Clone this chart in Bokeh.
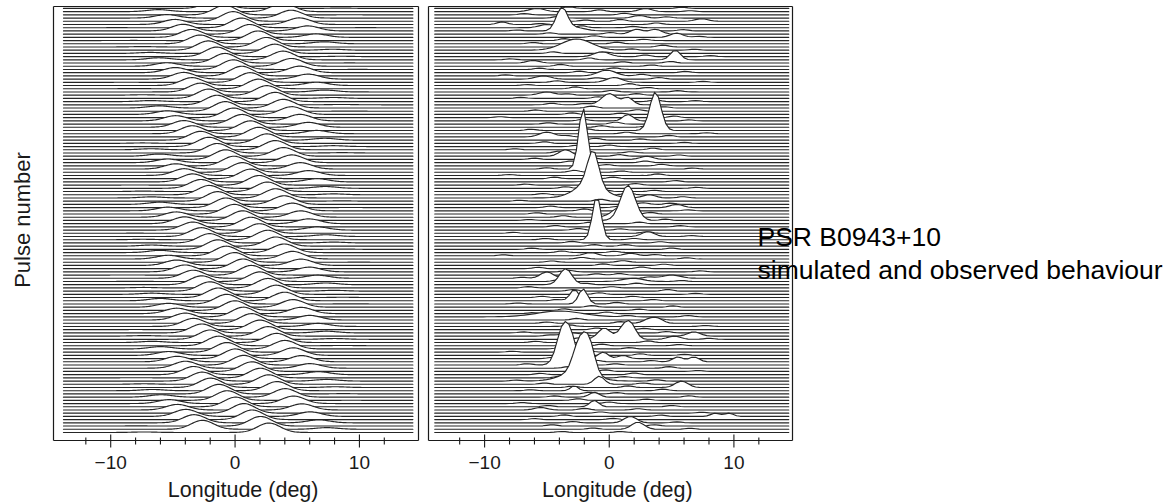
import numpy as np
from bokeh.plotting import figure
from bokeh.layouts import row
from bokeh.models import ColumnDataSource, Range1d
from bokeh.core.properties import value
from bokeh.embed import file_html
from bokeh.resources import INLINE

# ---------------- data ----------------
N_ROWS = 133  # pulses shown in each panel, listed from the top row down

# simulated panel: longitude (deg) of the sub-pulse nearest 0 in each pulse
sim_phase = [
    -1.50, 3.84, -0.83, 4.51, -0.16, -4.83, 0.51, -4.16, 1.18, -3.49,
    1.85, -2.82, 2.52, -2.15, 3.19, -1.48, 3.86, -0.81, 4.53, -0.14,
    -4.80, 0.54, -4.13, 1.21, -3.46, 1.88, -2.79, 2.55, -2.12, 3.22,
    -1.45, 3.89, -0.78, 4.56, -0.11, -4.78, 0.56, -4.11, 1.23, -3.44,
    1.90, -2.77, 2.57, -2.10, 3.24, -1.43, 3.91, -0.76, 4.58, -0.09,
    -4.75, 0.59, -4.08, 1.26, -3.41, 1.93, -2.74, 2.60, -2.07, 3.27,
    -1.40, 3.94, -0.73, 4.61, -0.06, -4.73, 0.61, -4.06, 1.28, -3.39,
    1.95, -2.72, 2.62, -2.05, 3.29, -1.38, 3.96, -0.71, 4.63, -0.04,
    -4.70, 0.64, -4.03, 1.31, -3.36, 1.98, -2.69, 2.65, -2.02, 3.32,
    -1.35, 3.99, -0.68, 4.66, -0.01, -4.68, 0.66, -4.00, 1.33, -3.34,
    2.00, -2.67, 2.67, -2.00, 3.34, -1.33, 4.01, -0.66, 4.68, 0.02,
    -4.65, 0.69, -3.98, 1.36, -3.31, 2.03, -2.64, 2.70, -1.97, 3.37,
    -1.30, 4.04, -0.63, 4.71, 0.04, -4.63, 0.71, -3.96, 1.38, -3.29,
    2.05, -2.62, 2.72,
]
sim_spacing = 10.0       # deg between sub-pulses in one pulse
sim_peak = 3.0           # sub-pulse height, in row spacings
sim_subpulse_width = 0.9
sim_env_center = 0.5
sim_env_width = 5.0

# observed panel, bright features: pulse (row from top), longitude, height (rows), width (deg)
obs_row = [1, 1, 3, 4, 5, 6, 7, 7, 8, 8, 9, 13, 15, 16, 17,
           21, 22, 23, 27, 30, 30, 35, 38, 40, 46, 47, 50, 59, 59, 59,
           62, 65, 66, 71, 72,
           77, 77, 84, 84, 85, 86, 91, 92, 96, 98, 98,
           102, 102, 103, 103, 103, 103, 109, 109, 110, 110,
           111, 111, 116, 116, 116, 117, 118, 119, 121, 124, 125,
           127, 127, 129, 131]
obs_pos = [-5.8, 2.9, 2.4, 7.4, -8.6, -5.0, -3.8, -2.6, 2.2, 3.7, 5.4, -2.6, -0.6, 5.3, -6.1,
           -0.2, -5.3, 0.4, -5.0, 0.0, 1.5, 1.5, 3.7, -5.0, -3.5, 3.0, -2.1, -1.3, -1.6, 3.2,
           5.4, 0.8, 1.5, 3.1, -1.0,
           -1.5, 1.7, -5.0, 5.0, 1.9, -3.5, -2.8, -2.1, -4.0, 3.3, 4.0,
           -3.0, 6.8, -0.4, 1.2, 1.8, 5.2, -0.5, 1.1, 5.5, 6.8,
           -3.7, -3.0, -2.4, -1.6, -2.5, -0.8, 5.8, -2.8, -1.2, -1.2, -5.5,
           8.5, 9.6, 1.7, 2.3]
obs_amp = [1.0, 1.0, 0.8, 0.8, 0.8, 1.0, 7.2, 1.0, 1.5, 1.5, 1.3, 3.5, 1.5, 3.0, 0.8,
           1.8, 1.0, 1.5, 1.0, 3.5, 2.2, 2.0, 12.0, 1.5, 2.0, 1.0, 19.0, 11.0, 4.0, 1.0,
           1.0, 3.0, 11.0, 1.5, 13.5,
           1.0, 0.8, 2.0, 1.0, 1.0, 5.0, 3.5, 4.7, 1.8, 1.5, 1.0,
           1.0, 1.3, 3.5, 4.0, 3.5, 1.0, 2.0, 1.0, 1.5, 1.5,
           11.7, 6.0, 9.0, 9.0, 3.0, 2.5, 2.0, 1.5, 1.5, 2.0, 0.8,
           1.0, 1.0, 2.0, 2.2]
obs_wid = [0.6, 0.5, 0.5, 0.5, 0.4, 0.6, 0.45, 0.7, 0.5, 0.5, 0.5, 1.2, 0.6, 0.4, 0.5,
           0.7, 0.6, 0.6, 0.6, 0.6, 0.4, 0.4, 0.45, 0.6, 0.5, 0.5, 0.35, 0.45, 1.2, 0.5,
           0.5, 0.5, 0.6, 0.5, 0.35,
           0.5, 0.5, 0.5, 0.7, 0.8, 0.5, 0.35, 0.35, 1.8, 0.5, 0.4,
           0.8, 0.5, 0.5, 0.45, 0.4, 0.5, 0.4, 0.4, 0.4, 0.4,
           0.5, 0.4, 0.5, 0.45, 1.3, 0.4, 0.5, 0.3, 0.4, 0.35, 0.5,
           0.35, 0.35, 0.5, 0.5]

# observed panel, faint wiggles in each pulse: (longitude, height in rows)
obs_weak = [
    [(-3.2, .5), (5.8, .4)], [(-0.8, .6), (6.5, .3)], [(-6.8, .4), (1.2, .5)], [(-4.1, .5), (4.6, .4)],
    [(-1.9, .4), (0.9, .6)], [(-5.5, .3), (3.8, .5)], [(-2.2, .6), (1.9, .4)], [(-7.4, .3), (5.9, .4)],
    [(-4.8, .4), (0.1, .5)], [(-1.2, .5), (7.2, .3)], [(-3.6, .6), (2.8, .4)], [(-6.1, .4), (0.6, .5)],
    [(-2.9, .5), (4.3, .6)], [(1.8, .4), (6.8, .3)], [(-4.5, .5), (-0.3, .4)], [(2.9, .5), (8.1, .3)],
    [(-7.9, .3), (-1.6, .6)], [(1.1, .4), (4.9, .5)], [(-3.9, .6), (3.4, .4)], [(-5.6, .4), (0.4, .5)],
    [(-2.4, .5), (6.1, .4)], [(-8.3, .3), (2.6, .5)], [(-1.0, .4), (4.0, .5)], [(-4.2, .5), (7.5, .3)],
    [(-6.6, .3), (1.6, .6)], [(-2.7, .6), (3.1, .4)], [(0.2, .5), (5.5, .4)], [(-3.3, .4), (2.2, .5)],
    [(-7.1, .3), (-0.9, .5)], [(3.7, .5), (6.9, .3)], [(-4.6, .5), (-2.0, .4)], [(-1.4, .6), (4.4, .4)],
    [(-5.9, .4), (2.3, .5)], [(-3.0, .5), (0.9, .4)], [(-8.8, .3), (5.2, .5)], [(-2.1, .5), (6.4, .3)],
    [(-4.9, .4), (0.5, .6)], [(-0.6, .5), (3.0, .4)], [(-6.3, .4), (-1.8, .5)], [(1.4, .5), (7.8, .3)],
    [(-3.4, .4), (4.8, .5)], [(-1.1, .6), (2.5, .4)], [(-5.2, .5), (6.0, .3)], [(-2.6, .4), (0.0, .5)],
    [(-7.6, .3), (3.5, .5)], [(-4.0, .6), (1.7, .4)], [(0.8, .5), (5.6, .4)], [(-6.0, .4), (-1.3, .5)],
    [(-3.1, .5), (2.9, .5)], [(-0.2, .4), (4.2, .5)], [(-5.0, .4), (6.7, .3)], [(-2.8, .6), (1.0, .4)],
    [(-8.0, .3), (3.9, .5)], [(-4.4, .5), (0.3, .5)], [(-1.7, .5), (5.3, .4)], [(-6.7, .3), (2.1, .5)],
    [(-3.5, .5), (7.0, .3)], [(-0.4, .5), (3.6, .4)], [(-5.3, .4), (1.5, .5)], [(-2.3, .4), (5.9, .4)],
    [(-7.2, .3), (-0.7, .6)], [(2.7, .5), (4.9, .4)], [(-4.7, .5), (0.7, .4)], [(-2.0, .6), (6.3, .3)],
    [(-5.8, .4), (3.3, .5)], [(-3.7, .5), (-0.1, .4)], [(-6.4, .3), (4.5, .4)], [(-1.5, .5), (2.4, .5)],
    [(-4.3, .4), (5.7, .4)], [(-2.5, .5), (0.9, .4)], [(-7.7, .3), (3.0, .5)], [(-0.9, .5), (6.6, .3)],
    [(-5.1, .4), (2.0, .4)], [(-3.0, .5), (4.1, .4)], [(-1.2, .5), (1.3, .5)], [(-6.2, .4), (5.0, .4)],
    [(-3.8, .5), (0.4, .4)], [(-8.5, .3), (3.7, .4)], [(-2.2, .5), (6.2, .4)], [(-4.6, .4), (1.1, .5)],
    [(-0.5, .5), (4.4, .4)], [(-5.7, .4), (2.6, .5)], [(-3.3, .5), (7.3, .3)], [(-1.0, .4), (0.8, .5)],
    [(-7.0, .3), (3.2, .4)], [(-4.1, .5), (5.8, .3)], [(-1.8, .4), (2.2, .5)], [(-6.5, .4), (0.2, .4)],
    [(-2.9, .5), (4.7, .5)], [(-0.8, .5), (6.9, .3)], [(-5.4, .4), (1.9, .4)], [(-4.2, .4), (3.5, .4)],
    [(-7.3, .3), (0.6, .5)], [(-1.4, .5), (5.1, .4)], [(-3.6, .5), (2.4, .4)], [(-6.1, .3), (-0.2, .5)],
    [(1.5, .4), (6.3, .4)], [(-2.6, .5), (4.0, .4)], [(-5.0, .4), (0.9, .5)], [(-3.2, .5), (7.7, .3)],
    [(-1.0, .5), (2.8, .4)], [(-6.9, .3), (4.6, .4)], [(-4.8, .3), (1.0, .4)], [(-2.3, .5), (8.0, .3)],
    [(-5.9, .4), (3.1, .5)], [(-0.6, .5), (5.6, .4)], [(-3.9, .5), (1.6, .4)], [(-7.8, .3), (-1.7, .5)],
    [(2.5, .5), (6.0, .3)], [(-4.5, .4), (-2.4, .4)], [(-1.1, .5), (3.4, .4)], [(-6.6, .4), (0.5, .4)],
    [(-3.3, .5), (4.8, .5)], [(-0.3, .5), (7.1, .3)], [(-5.5, .4), (2.0, .5)], [(-4.0, .5), (1.2, .4)],
    [(-7.5, .3), (3.8, .4)], [(-5.2, .4), (2.7, .4)], [(-3.0, .4), (1.5, .5)], [(-6.3, .3), (4.3, .5)],
    [(-1.6, .5), (0.6, .4)], [(-4.4, .4), (6.4, .4)], [(-2.5, .5), (3.0, .4)], [(-7.0, .3), (0.0, .5)],
    [(-4.9, .4), (5.0, .4)], [(-2.0, .5), (2.3, .4)], [(-0.7, .4), (7.4, .3)], [(-3.6, .5), (4.1, .4)],
    [(-6.0, .3), (0.3, .4)], [(-2.9, .4), (5.4, .3)], [(-4.6, .4), (3.6, .4)], [(-1.3, .4), (6.5, .3)],
    [(-3.8, .3), (0.9, .3)],
]
obs_weak_width = 0.4

tick_major = [-10, 0, 10]
tick_major_labels = ["\u221210", "0", "10"]
tick_minor = [-12, -8, -6, -4, -2, 2, 4, 6, 8, 12]
x_title = "Longitude (deg)"
x_title_at = 0.65          # deg, where the axis title is centred
y_title = "Pulse number"
note_lines = ["PSR B0943+10", "simulated and observed behaviour"]

# panel limits (deg) and vertical limits (row units)
left_xlim = (-14.6, 14.75)
right_xlim = (-14.5, 14.7)
ylim = (-2.5, 132.6)

# ---------------- layout (pixels) ----------------
H = 503
BOX_TOP, BOX_BOTTOM = 6, 440
LEFT_W, LEFT_BOX = 422, (53, 418)
RIGHT_W, RIGHT_BOX = 744, (6, 370)
TICK_FS, TITLE_FS, YTITLE_FS, NOTE_FS = 19, 21.5, 22, 26.5
TICK_LABEL_BASE = 469
TITLE_BASE = 498
YTITLE_BASE_X, YTITLE_MID_Y = 30, 219.5
NOTE_X, NOTE_BASES = 335, (247, 280)
BASE_SHIFT = 0.38   # em; how far the rendered baseline sits below the text anchor

FONT = "Liberation Sans"
INK = "#1a1a1a"
TRACE = "#262626"

y_scale = (BOX_BOTTOM - BOX_TOP) / (ylim[1] - ylim[0])   # px per row


def y_at(px):
    return ylim[1] - (px - BOX_TOP) / y_scale


def gauss(x, c, a, w):
    return a * np.exp(-0.5 * ((x - c) / w) ** 2)


# simulated profiles
x_sim = np.linspace(-13.8, 14.3, 282)
sim_profiles = []
for ph in sim_phase:
    h = np.zeros_like(x_sim)
    for k in range(-2, 3):
        c = ph + k * sim_spacing
        amp = sim_peak * np.exp(-0.5 * ((c - sim_env_center) / sim_env_width) ** 4)
        h += gauss(x_sim, c, amp, sim_subpulse_width)
    sim_profiles.append(h)

# observed profiles (coarse longitude bins, as in the data)
x_obs = np.linspace(-14.0, 14.4, 96)
obs_profiles = [np.zeros_like(x_obs) for _ in range(N_ROWS)]
for r, c, a, w in zip(obs_row, obs_pos, obs_amp, obs_wid):
    obs_profiles[r] += gauss(x_obs, c, a, w)
for r, bumps in enumerate(obs_weak):
    for c, a in bumps:
        obs_profiles[r] += gauss(x_obs, c, a, obs_weak_width)


def ridge_source(x, profiles):
    xs, ys, fa, la = [], [], [], []
    xl = [float(v) for v in x]
    for i, h in enumerate(profiles):
        base = N_ROWS - 1 - i
        # traces are cut at the top of the panel box
        y = [float(min(base + v, ylim[1])) for v in h]
        # white fill hides the pulses behind
        xs.append(xl + [xl[-1], xl[0]])
        ys.append(y + [base, base])
        fa.append(1.0)
        la.append(0.0)
        # the trace itself
        xs.append(xl + xl[::-1])
        ys.append(y + y[::-1])
        fa.append(0.0)
        la.append(1.0)
    return ColumnDataSource(dict(xs=xs, ys=ys, fa=fa, la=la))


def panel(width, box, xlim, x, profiles):
    xs = (box[1] - box[0]) / (xlim[1] - xlim[0])     # px per deg
    x_start = xlim[0] - box[0] / xs
    p = figure(width=width, height=H,
               x_range=Range1d(x_start, x_start + width / xs),
               y_range=Range1d(y_at(H), y_at(0)),
               output_backend="svg", toolbar_location=None,
               x_axis_location=None, y_axis_location=None,
               min_border_left=0, min_border_right=0, min_border_top=0, min_border_bottom=0)
    p.grid.visible = False
    p.outline_line_color = None
    p.background_fill_color = "white"
    p.border_fill_color = "white"

    p.patches("xs", "ys", source=ridge_source(x, profiles), fill_color="white",
              fill_alpha="fa", line_color=TRACE, line_alpha="la", line_width=1.15,
              line_join="round")

    # panel box
    x0, x1 = xlim
    y0, y1 = ylim
    p.segment(x0=[x0, x0, x0, x1], y0=[y0, y1, y0, y0], x1=[x1, x1, x0, x1], y1=[y0, y1, y1, y1],
              line_color=INK, line_width=1.2)
    # ticks
    p.segment(x0=tick_major, x1=tick_major,
              y0=[y_at(BOX_BOTTOM - 6)] * len(tick_major), y1=[y_at(BOX_BOTTOM + 7)] * len(tick_major),
              line_color=INK, line_width=1.1)
    p.segment(x0=tick_minor, x1=tick_minor,
              y0=[y_at(BOX_BOTTOM - 3)] * len(tick_minor), y1=[y_at(BOX_BOTTOM + 4)] * len(tick_minor),
              line_color=INK, line_width=1.1)
    # tick labels and axis title
    p.text(x=tick_major, y=[y_at(TICK_LABEL_BASE - BASE_SHIFT * TICK_FS)] * len(tick_major),
           text=tick_major_labels, text_align="center", text_baseline="alphabetic",
           text_font=value(FONT), text_font_size=f"{TICK_FS}px", text_color=INK)
    p.text(x=[x_title_at], y=[y_at(TITLE_BASE - BASE_SHIFT * TITLE_FS)], text=[x_title],
           text_align="center", text_baseline="alphabetic", text_font=value(FONT),
           text_font_size=f"{TITLE_FS}px", text_color=INK)
    return p, xs, x_start


p1, sx1, xs1 = panel(LEFT_W, LEFT_BOX, left_xlim, x_sim, sim_profiles)
p1.text(x=[xs1 + (YTITLE_BASE_X - BASE_SHIFT * YTITLE_FS) / sx1], y=[y_at(YTITLE_MID_Y)],
        text=[y_title], angle=np.pi / 2,
        text_align="center", text_baseline="alphabetic", text_font=value(FONT),
        text_font_size=f"{YTITLE_FS}px", text_color=INK)

p2, sx2, xs2 = panel(RIGHT_W, RIGHT_BOX, right_xlim, x_obs, obs_profiles)
p2.text(x=[xs2 + NOTE_X / sx2] * 2, y=[y_at(b - BASE_SHIFT * NOTE_FS) for b in NOTE_BASES],
        text=note_lines, text_align="left", text_baseline="alphabetic", text_font=value(FONT),
        text_font_size=f"{NOTE_FS}px", text_color="#000")

layout = row(p1, p2)
open("out.html", "w").write(file_html(layout, INLINE))
